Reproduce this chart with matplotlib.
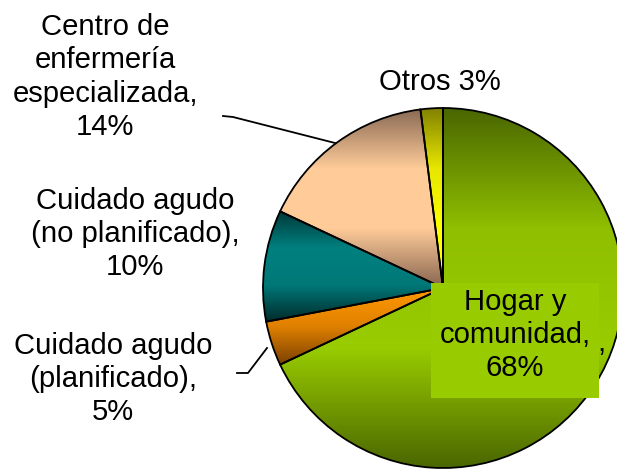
import numpy as np
import matplotlib
matplotlib.use("Agg")
import matplotlib.pyplot as plt
from matplotlib.colors import LinearSegmentedColormap
from matplotlib.patches import Rectangle

categories = ["Hogar y comunidad", "Cuidado agudo (planificado)",
              "Cuidado agudo (no planificado)", "Centro de enfermería especializada",
              "Otros"]
values = [68, 4, 10, 16, 2]
labels = ["Hogar y\ncomunidad,\n68%",
          "Cuidado agudo\n(planificado),\n5%",
          "Cuidado agudo\n(no planificado),\n10%",
          "Centro de\nenfermería\nespecializada,\n14%",
          "Otros 3%"]

# gradient stops per slice (top -> bottom)
grads = [["#4a6600", "#8fbf00", "#99cc00", "#4a6600"],
         ["#ff9900", "#e08000", "#7a4000"],
         ["#003838", "#008080", "#007878", "#002a2a"],
         ["#8a6a55", "#ffcc99", "#ffcc99", "#86644f"],
         ["#808000", "#e6e600", "#ffff00", "#ffff00"]]

W, H = 617, 473
fig = plt.figure(figsize=(W / 100, H / 100), dpi=100)
ax = fig.add_axes([0, 0, 1, 1])

cx, cy, R = 443, H - 288, 180
wedges, _ = ax.pie(values, center=(cx, cy), radius=R, startangle=90,
                   counterclock=False, frame=True,
                   wedgeprops=dict(edgecolor="black", linewidth=1.3))

for w, stops in zip(wedges, grads):
    t = np.radians(np.linspace(w.theta1, w.theta2, 200))
    xs = np.concatenate([[cx], cx + R * np.cos(t)])
    ys = np.concatenate([[cy], cy + R * np.sin(t)])
    cmap = LinearSegmentedColormap.from_list("g", stops)
    grad = np.linspace(1, 0, 256).reshape(-1, 1)
    im = ax.imshow(grad, cmap=cmap, aspect="auto", origin="lower",
                   extent=[xs.min(), xs.max(), ys.min(), ys.max()], zorder=1)
    im.set_clip_path(w)
    w.set_facecolor("none")
    w.set_zorder(2)

fs = 29.3 * 72 / 100
font = "Liberation Sans"
ls = 1.24

# leader lines
ax.plot([223, 233, 335], [H - 116, H - 117, H - 143], color="black", lw=1.3, zorder=3)
ax.plot([237, 248, 267], [H - 373, H - 373, H - 348], color="black", lw=1.3, zorder=3)

ax.text(105, H - 77, labels[3], ha="center", va="center", fontsize=fs,
        family=font, linespacing=ls)
ax.text(135, H - 234, labels[2], ha="center", va="center", fontsize=fs,
        family=font, linespacing=ls)
ax.text(113, H - 379, labels[1], ha="center", va="center", fontsize=fs,
        family=font, linespacing=ls)
ax.text(440, H - 82, labels[4], ha="center", va="center", fontsize=fs,
        family=font)

ax.add_patch(Rectangle((431, H - 398), 168, 115, facecolor="#99cc00",
                       edgecolor="none", zorder=4))
ax.text(515, H - 335, labels[0], ha="center", va="center", fontsize=fs,
        family=font, linespacing=ls, zorder=5)
ax.text(601, H - 343, ",", ha="center", va="center", fontsize=fs,
        family=font, zorder=5)

ax.set_xlim(0, W)
ax.set_ylim(0, H)
ax.set_aspect("auto")
ax.axis("off")

fig.savefig("out.png", dpi=100)
